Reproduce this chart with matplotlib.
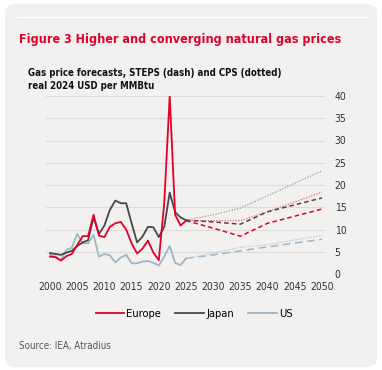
import matplotlib.pyplot as plt
from matplotlib.patches import FancyBboxPatch
from matplotlib.lines import Line2D

# historical data 2000-2025
years = list(range(2000, 2026))
europe = [3.9, 3.8, 3.0, 4.0, 4.5, 6.5, 8.5, 8.5, 13.3, 8.6, 8.3, 10.6, 11.4, 11.7, 10.0,
          6.9, 4.6, 5.7, 7.5, 4.8, 3.1, 16.0, 40.0, 13.3, 10.9, 12.0]
japan = [4.7, 4.5, 4.3, 4.8, 5.2, 6.3, 7.1, 7.6, 12.7, 9.0, 10.9, 14.4, 16.5, 15.9, 15.9,
         11.4, 7.1, 8.4, 10.6, 10.5, 8.3, 10.6, 18.3, 13.9, 12.7, 12.1]
us = [4.3, 3.9, 3.1, 5.4, 5.9, 9.0, 6.9, 6.9, 8.8, 3.9, 4.5, 4.2, 2.6, 3.7, 4.3,
      2.4, 2.4, 2.8, 2.9, 2.5, 1.9, 3.9, 6.3, 2.5, 2.0, 3.5]

# projections
proj_years = [2025, 2030, 2035, 2040, 2050]
europe_steps = [12.0, 10.3, 8.5, 11.4, 14.6]
europe_cps = [12.0, 12.0, 12.0, 14.0, 18.4]
japan_steps = [12.1, 11.7, 11.2, 14.0, 17.1]
japan_cps = [12.1, 13.3, 14.8, 17.6, 23.2]
us_steps = [3.5, 4.3, 5.2, 6.1, 7.8]
us_cps = [3.5, 4.7, 6.0, 6.6, 8.7]

red = '#e2002b'
dark = '#474747'
blue = '#9db6c6'

plt.rcParams['font.family'] = 'DejaVu Sans'
plt.rcParams['font.stretch'] = 'condensed'

W, H = 382, 370
fig = plt.figure(figsize=(W / 100, H / 100), dpi=100)
fig.patch.set_facecolor('white')

# panel background
panel = FancyBboxPatch((5 / W, 3 / H), 372 / W, 363 / H,
                       boxstyle='round,pad=0,rounding_size=0.025',
                       transform=fig.transFigure, facecolor='#f2f1ef',
                       edgecolor='none', zorder=-5)
fig.patches.append(panel)
fig.add_artist(Line2D([17 / W, 367 / W], [1 - 17 / H, 1 - 17 / H],
                      color='white', lw=1, transform=fig.transFigure, zorder=-4))

fig.text(19 / W, 1 - 40 / H, 'Figure 3 Higher and converging natural gas prices',
         color=red, fontsize=9, fontweight='bold', va='center')
fig.text(28 / W, 1 - 73 / H, 'Gas price forecasts, STEPS (dash) and CPS (dotted)',
         color='#111111', fontsize=6.9, fontweight='bold', va='center')
fig.text(28 / W, 1 - 86 / H, 'real 2024 USD per MMBtu',
         color='#111111', fontsize=6.9, fontweight='bold', va='center')

ax = fig.add_axes([46 / W, (H - 274) / H, 279 / W, 178 / H])
ax.set_facecolor('none')

ax.plot(years, europe, color=red, lw=1.3, label='Europe', zorder=4)
ax.plot(years, japan, color=dark, lw=1.3, label='Japan', zorder=3)
ax.plot(years, us, color=blue, lw=1.3, label='US', zorder=2)

ax.plot(proj_years, europe_steps, color=red, lw=1.1, ls=(0, (3, 2)))
ax.plot(proj_years, europe_cps, color='#f0607e', lw=0.9, ls=(0, (1, 1.2)))
ax.plot(proj_years, japan_steps, color=dark, lw=1.1, ls=(0, (3, 2)))
ax.plot(proj_years, japan_cps, color='#9a9a9a', lw=0.9, ls=(0, (1, 1.2)))
ax.plot(proj_years, us_steps, color=blue, lw=1.1, ls=(0, (5, 3)))
ax.plot(proj_years, us_cps, color='#b5cad6', lw=0.9, ls=(0, (1, 1.2)))

ax.set_xlim(1999.26, 2050.55)
ax.set_ylim(0, 40)
ax.set_xticks(range(2000, 2051, 5))
ax.set_yticks(range(0, 41, 5))
ax.yaxis.tick_right()
ax.grid(axis='y', color='#dddcda', lw=0.8)
ax.set_axisbelow(True)
for s in ax.spines.values():
    s.set_visible(False)
ax.tick_params(length=0, labelsize=7.5, colors='#333333')
ax.tick_params(axis='y', pad=7)
ax.tick_params(axis='x', pad=6)

leg = fig.legend(loc='center', bbox_to_anchor=(194 / W, 1 - 314 / H), ncol=3,
                 frameon=False, fontsize=8, handlelength=2.6, handletextpad=0.15,
                 columnspacing=1.3)

fig.text(19 / W, 1 - 346 / H, 'Source: IEA, Atradius', color='#555555',
         fontsize=7, va='center')

fig.savefig('out.png', dpi=100)
